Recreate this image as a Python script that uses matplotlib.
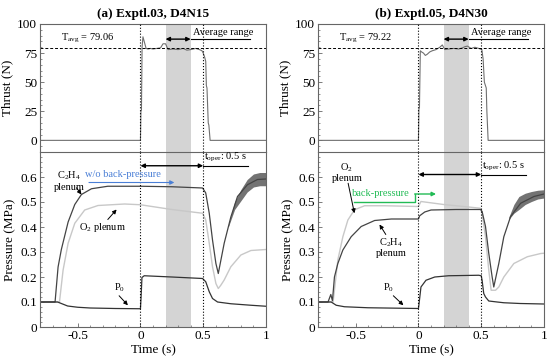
import matplotlib
matplotlib.use("Agg")
import matplotlib.pyplot as plt
import numpy as np

plt.rcParams['font.family'] = ['Liberation Serif', 'DejaVu Serif']
plt.rcParams['mathtext.fontset'] = 'custom'
plt.rcParams['mathtext.rm'] = 'Liberation Serif'
plt.rcParams['mathtext.it'] = 'Liberation Serif:italic'

# ---- data ----
titles = ['(a) Exptl.03, D4N15', '(b) Exptl.05, D4N30']
t_avg = [79.06, 79.22]

# thrust (N)
thr_t_a = [-0.8, 0.0, 0.004, 0.008, 0.013, 0.02, 0.03, 0.045, 0.06, 0.08, 0.1, 0.13, 0.16, 0.18, 0.2,
           0.22, 0.26, 0.3, 0.34, 0.37, 0.4, 0.44, 0.47, 0.49, 0.5, 0.51, 0.52, 0.525, 0.53, 0.54,
           0.545, 0.555, 1.0]
thr_v_a = [0, 0, 25, 26, 80, 89, 85, 79, 78.5, 79, 78.5, 79, 79.5, 83, 83, 78, 78.5, 78, 79, 77.5,
           78, 79, 78, 77, 75, 72, 68, 47, 45, 15, 13, 0, 0]
thr_t_b = [-0.8, 0.0, 0.004, 0.008, 0.015, 0.025, 0.04, 0.055, 0.07, 0.09, 0.11, 0.14, 0.17, 0.19,
           0.21, 0.24, 0.28, 0.32, 0.35, 0.37, 0.39, 0.42, 0.45, 0.48, 0.505, 0.515, 0.52, 0.525,
           0.54, 0.545, 0.555, 1.0]
thr_v_b = [0, 0, 27, 28, 77, 76, 75, 73, 74, 76, 77, 78, 80, 82, 78, 78.5, 79, 78.5, 79.5, 80.5,
           81, 79, 80, 79, 78, 70, 60, 50, 45, 25, 0, 0]

# pressure (MPa), panel a
c2h4_t_a = [-0.8, -0.68, -0.656, -0.63, -0.576, -0.523, -0.47, -0.39, -0.26, 0.0, 0.25, 0.495,
            0.52, 0.548, 0.574, 0.601, 0.62, 0.667, 0.72, 0.773, 0.852, 0.932, 1.0]
c2h4_p_a = [0.1, 0.1, 0.24, 0.31, 0.42, 0.49, 0.53, 0.553, 0.563, 0.563, 0.561, 0.556,
            0.536, 0.455, 0.348, 0.254, 0.214, 0.335, 0.44, 0.522, 0.569, 0.59, 0.592]
o2_t_a = [-0.8, -0.645, -0.616, -0.576, -0.523, -0.444, -0.338, -0.126, 0.0, 0.25, 0.495, 0.52,
          0.548, 0.574, 0.601, 0.62, 0.64, 0.667, 0.72, 0.8, 0.88, 1.0]
o2_p_a = [0.1, 0.1, 0.228, 0.335, 0.415, 0.468, 0.486, 0.492, 0.489, 0.47, 0.455, 0.428,
          0.335, 0.241, 0.174, 0.154, 0.167, 0.188, 0.241, 0.288, 0.306, 0.31]
p0_t_a = [-0.8, -0.66, -0.62, -0.58, -0.5, -0.4, -0.2, 0.0, 0.005, 0.012, 0.03, 0.25, 0.495,
          0.52, 0.548, 0.574, 0.614, 0.72, 0.88, 1.0]
p0_p_a = [0.1, 0.1, 0.092, 0.084, 0.079, 0.076, 0.074, 0.073, 0.12, 0.198, 0.205, 0.2, 0.194,
          0.181, 0.141, 0.114, 0.1, 0.093, 0.087, 0.083]
band_t_a = [0.7, 0.75, 0.8, 0.85, 0.9, 0.95, 1.0]
band_lo_a = [0.40, 0.47, 0.505, 0.54, 0.56, 0.565, 0.565]
band_hi_a = [0.41, 0.5, 0.55, 0.59, 0.612, 0.618, 0.618]

# pressure (MPa), panel b
c2h4_t_b = [-0.8, -0.72, -0.698, -0.685, -0.669, -0.642, -0.602, -0.536, -0.456, -0.349, -0.216,
            0.0, 0.01, 0.05, 0.1, 0.3, 0.495, 0.507, 0.534, 0.56, 0.587, 0.6, 0.64, 0.68, 0.734,
            0.814, 0.92, 1.0]
c2h4_p_b = [0.1, 0.1, 0.13, 0.105, 0.2, 0.254, 0.308, 0.361, 0.402, 0.426, 0.432, 0.432, 0.445,
            0.46, 0.468, 0.47, 0.47, 0.462, 0.402, 0.295, 0.2, 0.16, 0.254, 0.361, 0.442, 0.495,
            0.522, 0.532]
o2_t_b = [-0.8, -0.68, -0.669, -0.642, -0.602, -0.562, -0.509, -0.429, -0.269, 0.0, 0.02, 0.2,
          0.495, 0.507, 0.534, 0.56, 0.579, 0.614, 0.64, 0.68, 0.76, 0.867, 0.974, 1.0]
o2_p_b = [0.1, 0.1, 0.147, 0.268, 0.361, 0.428, 0.469, 0.485, 0.485, 0.482, 0.502, 0.49, 0.475,
          0.455, 0.361, 0.228, 0.147, 0.147, 0.16, 0.2, 0.254, 0.281, 0.294, 0.295]
p0_t_b = [-0.8, -0.695, -0.655, -0.589, -0.403, 0.0, 0.005, 0.02, 0.06, 0.13, 0.24, 0.48, 0.5,
          0.507, 0.52, 0.534, 0.56, 0.627, 0.68, 0.81, 1.0]
p0_p_b = [0.1, 0.1, 0.087, 0.081, 0.077, 0.074, 0.094, 0.16, 0.187, 0.2, 0.205, 0.207, 0.205,
          0.187, 0.134, 0.12, 0.104, 0.1, 0.097, 0.094, 0.092]
band_t_b = [0.72, 0.76, 0.8, 0.85, 0.9, 0.95, 1.0]
band_lo_b = [0.43, 0.455, 0.47, 0.49, 0.502, 0.512, 0.516]
band_hi_b = [0.44, 0.49, 0.522, 0.535, 0.542, 0.547, 0.549]

panels = [
    dict(thr_t=thr_t_a, thr_v=thr_v_a, c2h4_t=c2h4_t_a, c2h4_p=c2h4_p_a, o2_t=o2_t_a, o2_p=o2_p_a,
         p0_t=p0_t_a, p0_p=p0_p_a, band_t=band_t_a, band_lo=band_lo_a, band_hi=band_hi_a),
    dict(thr_t=thr_t_b, thr_v=thr_v_b, c2h4_t=c2h4_t_b, c2h4_p=c2h4_p_b, o2_t=o2_t_b, o2_p=o2_p_b,
         p0_t=p0_t_b, p0_p=p0_p_b, band_t=band_t_b, band_lo=band_lo_b, band_hi=band_hi_b),
]

fig = plt.figure(figsize=(5.5, 3.58), dpi=100)
lefts = [40 / 550, 318 / 550]
w = 226 / 550
top_b, top_h = (358 - 152) / 358, 128 / 358
bot_b, bot_h = (358 - 327) / 358, 175 / 358

fs = 9.5
fa = 7.5
arr = dict(arrowstyle='-|>', color='k', lw=0.7, mutation_scale=6, shrinkA=0, shrinkB=0)
darr = dict(arrowstyle='<|-|>', color='k', lw=1.0, mutation_scale=6, shrinkA=0, shrinkB=0)
spine_c = '#666666'

for i, d in enumerate(panels):
    ax1 = fig.add_axes([lefts[i], top_b, w, top_h])
    ax2 = fig.add_axes([lefts[i], bot_b, w, bot_h])
    for ax in (ax1, ax2):
        ax.set_xlim(-0.8, 1.0)
        ax.axvspan(0.2, 0.4, color='#d4d4d4', lw=0, zorder=0)
        for xv in (0.0, 0.5):
            ax.axvline(xv, color='k', ls=':', lw=0.8, zorder=3)
        for s in ax.spines.values():
            s.set_color(spine_c)
            s.set_linewidth(0.8)
        ax.tick_params(direction='in', labelsize=fs, length=3, width=0.6, color=spine_c, pad=2)
        ax.tick_params(which='minor', direction='in', length=1.5, width=0.5, color=spine_c)
    ax1.spines['bottom'].set_visible(False)

    # thrust
    ax1.plot(d['thr_t'], d['thr_v'], color='#707070', lw=0.8, zorder=2)
    ax1.axhline(t_avg[i], color='k', ls='--', lw=0.7, dashes=(3, 2))
    ax1.set_ylim(-10, 100)
    ax1.set_yticks([0, 25, 50, 75, 100])
    ax1.set_yticks(np.arange(-10, 100, 5), minor=True)
    ax1.set_xticks([])
    ax1.set_xticks([], minor=True)
    ax1.set_ylabel('Thrust (N)', fontsize=fs, labelpad=3)
    ax1.set_title(titles[i], fontsize=fs, fontweight='bold', pad=5)
    ax1.text(-0.42, 82, 'T$_{\\rm avg}$ = %.2f' % t_avg[i], fontsize=fa, ha='center', va='bottom')
    ax1.annotate('', xy=(0.2, 87), xytext=(0.4, 87), arrowprops=darr)
    ax1.plot([0.4, 0.87], [87, 87], color='k', lw=0.8)
    ax1.text(0.66, 88.5, 'Average range', fontsize=fa, ha='center', va='bottom')

    # pressure
    ax2.fill_between(d['band_t'], d['band_lo'], d['band_hi'], color='#5a5a5a', alpha=0.85, lw=0,
                     zorder=1)
    ax2.plot(d['o2_t'], d['o2_p'], color='#c8c8c8', lw=1.0, zorder=2)
    ax2.plot(d['c2h4_t'], d['c2h4_p'], color='#444444', lw=0.9, zorder=2)
    ax2.plot(d['p0_t'], d['p0_p'], color='#333333', lw=0.9, zorder=2)
    ax2.set_ylim(0, 0.7)
    ax2.set_yticks([0, 0.1, 0.2, 0.3, 0.4, 0.5, 0.6])
    ax2.set_yticklabels(['0', '0.1', '0.2', '0.3', '0.4', '0.5', '0.6'])
    ax2.set_yticks(np.arange(0, 0.7, 0.02), minor=True)
    ax2.set_xticks([-0.5, 0, 0.5, 1])
    ax2.set_xticklabels(['-0.5', '0', '0.5', '1'])
    ax2.set_xticks(np.arange(-0.8, 1.0, 0.1), minor=True)
    ax2.set_xlabel('Time (s)', fontsize=fs, labelpad=2)
    ax2.set_ylabel('Pressure (MPa)', fontsize=fs, labelpad=3)

    ya = 0.645 if i == 0 else 0.61
    ax2.annotate('', xy=(0.0, ya), xytext=(0.5, ya), arrowprops=darr)
    ax2.plot([0.5, 0.86], [ya, ya], color='k', lw=0.8)
    ax2.text(0.675, ya + 0.006, 't$_{\\rm oper}$: 0.5 s', fontsize=fa, ha='center', va='bottom')

    if i == 0:
        ax2.text(-0.57, 0.585, 'C$_2$H$_4$\nplenum', fontsize=fa, ha='center', va='center',
                 linespacing=1.0)
        ax2.annotate('', xy=(-0.47, 0.53), xytext=(-0.51, 0.557), arrowprops=arr)
        ax2.text(-0.14, 0.61, 'w/o back-pressure', fontsize=fa, ha='center', va='center',
                 color='#4a7fd6')
        ax2.annotate('', xy=(0.27, 0.578), xytext=(-0.41, 0.578),
                     arrowprops=dict(arrowstyle='-|>', color='#4a7fd6', lw=0.8, mutation_scale=6,
                                     shrinkA=0, shrinkB=0))
        ax2.text(-0.3, 0.40, 'O$_2$ plenum', fontsize=fa, ha='center', va='center')
        ax2.annotate('', xy=(-0.19, 0.47), xytext=(-0.26, 0.43), arrowprops=arr)
        ax2.text(-0.17, 0.155, 'P$_0$', fontsize=fa, ha='center', va='center')
        ax2.annotate('', xy=(-0.1, 0.087), xytext=(-0.17, 0.125), arrowprops=arr)
    else:
        ax2.text(-0.57, 0.62, 'O$_2$\nplenum', fontsize=fa, ha='center', va='center',
                 linespacing=1.0)
        ax2.annotate('', xy=(-0.51, 0.455), xytext=(-0.56, 0.575), arrowprops=arr)
        ax2.text(-0.3, 0.535, 'back-pressure', fontsize=fa, ha='center', va='center',
                 color='#22bb55')
        ax2.plot([-0.51, -0.03, -0.03], [0.5, 0.5, 0.532], color='#22bb55', lw=1.0)
        ax2.annotate('', xy=(0.14, 0.532), xytext=(-0.03, 0.532),
                     arrowprops=dict(arrowstyle='-|>', color='#22bb55', lw=1.0, mutation_scale=6,
                                     shrinkA=0, shrinkB=0))
        ax2.text(-0.22, 0.32, 'C$_2$H$_4$\nplenum', fontsize=fa, ha='center', va='center',
                 linespacing=1.0)
        ax2.annotate('', xy=(-0.31, 0.41), xytext=(-0.26, 0.37), arrowprops=arr)
        ax2.text(-0.24, 0.155, 'P$_0$', fontsize=fa, ha='center', va='center')
        ax2.annotate('', xy=(-0.12, 0.087), xytext=(-0.2, 0.125), arrowprops=arr)

fig.savefig('out.png', dpi=100)
